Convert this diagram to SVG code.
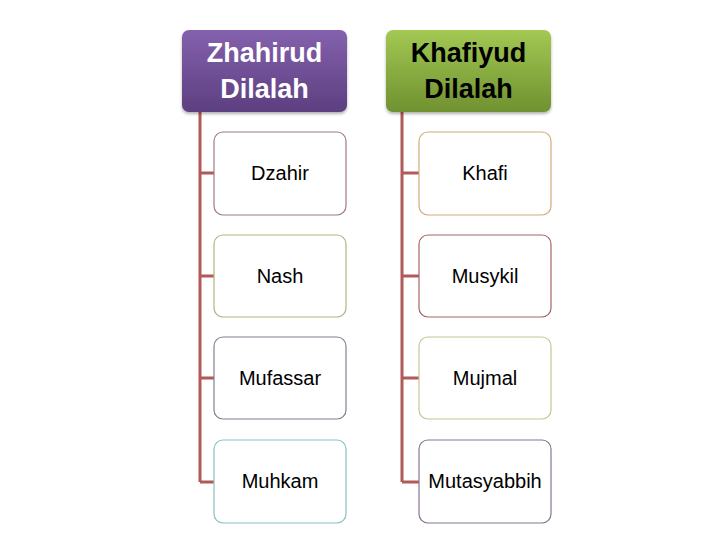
<svg xmlns="http://www.w3.org/2000/svg" width="720" height="540" viewBox="0 0 720 540">
<defs>
<linearGradient id="gp" x1="0" y1="0" x2="0" y2="1"><stop offset="0" stop-color="#8461ad"/><stop offset="1" stop-color="#5d3f80"/></linearGradient>
<linearGradient id="gg" x1="0" y1="0" x2="0" y2="1"><stop offset="0" stop-color="#a3c853"/><stop offset="1" stop-color="#6f9130"/></linearGradient>
<filter id="sh" x="-10%" y="-10%" width="120%" height="130%"><feDropShadow dx="0" dy="2" stdDeviation="1.5" flood-color="#000" flood-opacity="0.3"/></filter>
</defs>
<style>
.hd{font-family:"Liberation Sans",Arial,sans-serif;font-weight:bold;font-size:27px;text-anchor:middle}
.ch{font-family:"Liberation Sans",Arial,sans-serif;font-size:20px;text-anchor:middle;fill:#000}
.bx{fill:#fff;stroke-width:1.2}
.cn{stroke:#b15a58;stroke-width:3;fill:none}
</style>
<rect width="720" height="540" fill="#fff"/>
<g id="connectors">
<path class="cn" d="M200 112V482M200 173H214M200 276H214M200 378H214M200 482H214"/>
<path class="cn" d="M402 112V482M402 173H419M402 276H419M402 378H419M402 482H419"/>
</g>
<g id="zhahirud">
<rect x="182" y="30" width="165" height="82" rx="7" fill="url(#gp)" filter="url(#sh)"/>
<text class="hd" x="264.5" y="62" fill="#fff">Zhahirud</text>
<text class="hd" x="264.5" y="98" fill="#fff">Dilalah</text>
</g>
<g id="khafiyud">
<rect x="386" y="30" width="165" height="82" rx="7" fill="url(#gg)" filter="url(#sh)"/>
<text class="hd" x="468.5" y="62" fill="#000">Khafiyud</text>
<text class="hd" x="468.5" y="98" fill="#000">Dilalah</text>
</g>
<g id="dzahir"><rect class="bx" x="214" y="132" width="132" height="83" rx="9" stroke="#a07a86"/><text class="ch" x="280" y="180">Dzahir</text></g>
<g id="nash"><rect class="bx" x="214" y="235" width="132" height="82" rx="9" stroke="#b3b385"/><text class="ch" x="280" y="283">Nash</text></g>
<g id="mufassar"><rect class="bx" x="214" y="337" width="132" height="82" rx="9" stroke="#8a7d92"/><text class="ch" x="280" y="385">Mufassar</text></g>
<g id="muhkam"><rect class="bx" x="214" y="440" width="132" height="83" rx="9" stroke="#86c2c4"/><text class="ch" x="280" y="488">Muhkam</text></g>
<g id="khafi"><rect class="bx" x="419" y="132" width="132" height="83" rx="9" stroke="#d5ab78"/><text class="ch" x="485" y="180">Khafi</text></g>
<g id="musykil"><rect class="bx" x="419" y="235" width="132" height="82" rx="9" stroke="#a76466"/><text class="ch" x="485" y="283">Musykil</text></g>
<g id="mujmal"><rect class="bx" x="419" y="337" width="132" height="82" rx="9" stroke="#c5c595"/><text class="ch" x="485" y="385">Mujmal</text></g>
<g id="mutasyabbih"><rect class="bx" x="419" y="440" width="132" height="83" rx="9" stroke="#857690"/><text class="ch" x="485" y="488">Mutasyabbih</text></g>
</svg>
